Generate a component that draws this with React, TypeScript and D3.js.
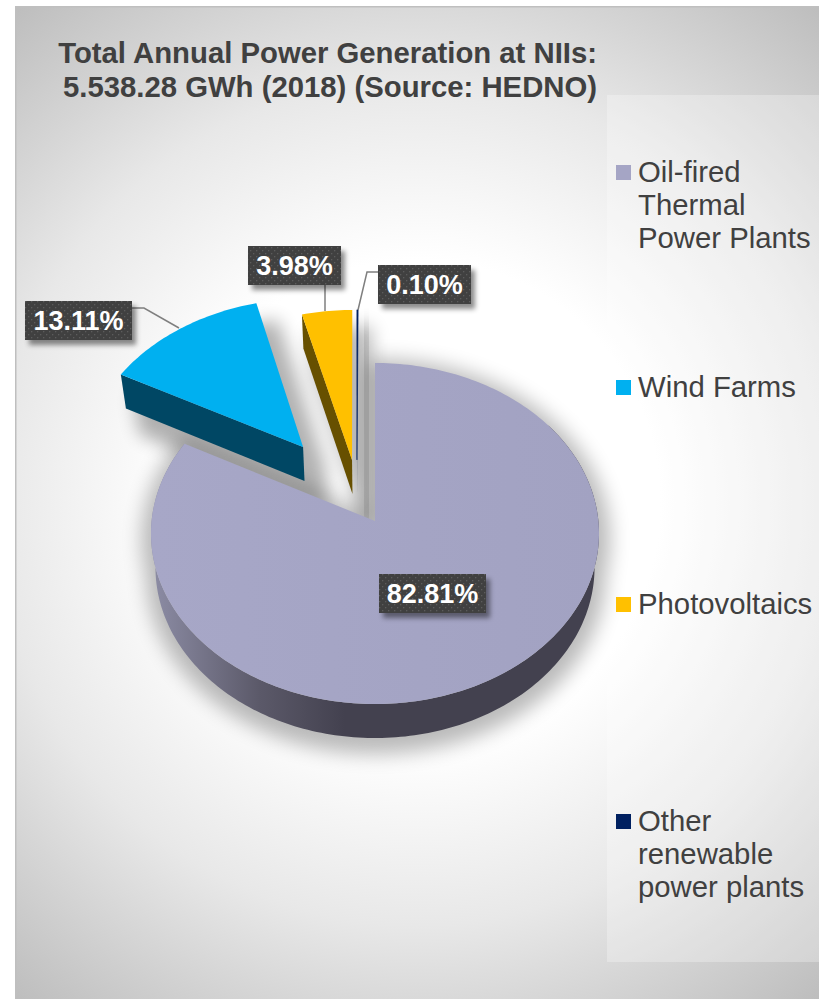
import React from "react";
import * as d3 from "d3";

// Share of annual generation by source, percent.
const categories = ["Oil-fired Thermal Power Plants", "Wind Farms", "Photovoltaics", "Other renewable power plants"];
const shares = [82.81, 13.11, 3.98, 0.1];
const legendLines = [["Oil-fired", "Thermal", "Power Plants"], ["Wind Farms"], ["Photovoltaics"], ["Other", "renewable", "power plants"]];
const titleLines = ["Total Annual Power Generation at NIIs:", "5.538.28 GWh (2018) (Source: HEDNO)"];

const topColors = ["url(#mainTop)", "#00b0f0", "#ffc000", "#002060"];
const sideColors = ["url(#mainSide)", "#004764", "#675000", "#7f8794"];
const legendColors = ["#a5a5c5", "#00b0f0", "#ffc000", "#002060"];

// Offset of each exploded slice in the plane of the pie, in radius units.
const explode: [number, number][] = [[0, 0], [-0.3326, 0.4505], [-0.1056, 0.3694], [-0.083, 0.37]];

// Label boxes and leader polylines for each slice.
const labelBoxes = [
  { x: 379, y: 574, w: 107 },
  { x: 25, y: 301, w: 107 },
  { x: 248, y: 246, w: 93 },
  { x: 378, y: 265, w: 93 },
];
const leaders: ([number, number][] | null)[] = [
  null,
  [[132, 308], [144, 308], [179, 328]],
  [[325, 285], [325, 311]],
  [[378, 272], [367, 272], [358, 310]],
];

const W = 819;
const H = 999;
const X0 = 375;
const Y0 = 521;
const RX = 223.4;
const RY = 169.6;
const PERSPECTIVE = 0.0733;
const THICK = 34;
const BASE_SCALE = 0.98;
const FONT = "'Liberation Sans', Arial, sans-serif";

type Pt = [number, number];

// Projects a point of the pie's disc (u right, v away from the viewer) to the screen.
function project(u: number, v: number): Pt {
  const w = 1 + PERSPECTIVE * v;
  return [X0 + (RX * u) / w, Y0 - (RY * v) / w];
}
const lower = ([x, y]: Pt): Pt => [X0 + (x - X0) * BASE_SCALE, y + THICK];

function arcPoints(a0: number, a1: number, off: [number, number]): Pt[] {
  const n = Math.max(2, Math.ceil((a1 - a0) / 0.02));
  return d3.range(n + 1).map((i) => {
    const t = a0 + ((a1 - a0) * i) / n;
    return project(Math.sin(t) + off[0], Math.cos(t) + off[1]);
  });
}
const poly = d3.line<Pt>().x((d) => d[0]).y((d) => d[1]);
const closed = (pts: Pt[]) => (poly(pts) as string) + "Z";

const slices = d3.pie<number>().sort(null).value((d) => d)(shares);

const geometry = slices.map((s, i) => {
  const off = explode[i];
  const arc = arcPoints(s.startAngle, s.endAngle, off);
  const apex = project(off[0], off[1]);
  const top = closed([apex, ...arc]);
  let side: string;
  if (i === 0) {
    // Front wall of the large slice: everything past the side silhouettes is hidden by the top.
    const front = arcPoints(Math.PI * 0.3, s.endAngle, off);
    side = closed([...front, ...front.map(lower).reverse()]);
  } else {
    const outer = arc[0];
    side = closed([outer, apex, lower(apex), lower(outer)]);
  }
  return { top, side, silhouette: top + side };
});

export default function App() {
  return (
    <svg
      width={W}
      height={H}
      viewBox={`0 0 ${W} ${H}`}
      style={{ position: "absolute", left: 0, top: 0, display: "block" }}
      fontFamily={FONT}
    >
      <defs>
        <radialGradient id="panelBg" gradientUnits="userSpaceOnUse" cx={417} cy={503} r={640}>
          <stop offset="0" stopColor="#ffffff" />
          <stop offset="0.38" stopColor="#ffffff" />
          <stop offset="0.66" stopColor="#e8e8e8" />
          <stop offset="0.8" stopColor="#d6d6d6" />
          <stop offset="1" stopColor="#bdbdbd" />
        </radialGradient>
        <linearGradient id="mainSide" gradientUnits="userSpaceOnUse" x1={155} x2={345} y1={0} y2={0}>
          <stop offset="0" stopColor="#8b8ba3" />
          <stop offset="0.55" stopColor="#5b5969" />
          <stop offset="1" stopColor="#43414f" />
        </linearGradient>
        <linearGradient id="mainTop" gradientUnits="userSpaceOnUse" x1={152} x2={600} y1={0} y2={0}>
          <stop offset="0" stopColor="#a7a7c7" />
          <stop offset="1" stopColor="#a2a2c2" />
        </linearGradient>
        <filter id="softWide" x="-20%" y="-20%" width="140%" height="140%">
          <feGaussianBlur stdDeviation="10" />
        </filter>
        <filter id="softNarrow" x="-100%" y="-50%" width="300%" height="200%">
          <feGaussianBlur stdDeviation="9" />
        </filter>
        <filter id="boxShadow" x="-20%" y="-30%" width="140%" height="170%">
          <feDropShadow dx="4" dy="5" stdDeviation="2.5" floodColor="#000" floodOpacity="0.45" />
        </filter>
        <pattern id="dots" width="6" height="6" patternUnits="userSpaceOnUse">
          <rect width="6" height="6" fill="#404040" />
          <rect x="1" y="1" width="1.3" height="1.3" fill="#5c5c5c" />
          <rect x="4" y="4" width="1.3" height="1.3" fill="#5c5c5c" />
        </pattern>
      </defs>

      {/* Panel and its frame */}
      <rect x={15} y={6} width={W - 15} height={H - 6} fill="#bfbfbf" />
      <rect x={16.5} y={7.5} width={W - 16.5} height={H - 7.5} fill="url(#panelBg)" />

      {/* Legend backing */}
      <rect x={607} y={95} width={212} height={867} fill="#ffffff" fillOpacity={0.28} />

      {/* Title */}
      <g fill="#404040" fontWeight="bold" fontSize={29.3} textAnchor="end">
        {titleLines.map((t, i) => (
          <text key={t} x={597} y={63 + i * 34}>{t}</text>
        ))}
      </g>

      {/* Cast shadows */}
      <g>
        <g opacity={0.27} filter="url(#softWide)">
          <path d={geometry[0].silhouette} transform="translate(1 6)" fill="#000" stroke="#000" strokeWidth={20} strokeLinejoin="round" />
        </g>
        <g opacity={0.3} filter="url(#softNarrow)">
          <path d={geometry[1].silhouette} transform="translate(18 22)" fill="#000" stroke="#000" strokeWidth={10} strokeLinejoin="round" />
        </g>
        <g opacity={0.26} filter="url(#softNarrow)">
          <path d={geometry[2].silhouette} transform="translate(14 22)" fill="#000" stroke="#000" strokeWidth={12} strokeLinejoin="round" />
        </g>
        <g opacity={0.12} filter="url(#softNarrow)">
          <path d={geometry[3].silhouette} transform="translate(9 22)" fill="#000" stroke="#000" strokeWidth={20} strokeLinejoin="round" />
        </g>
      </g>

      {/* Slices */}
      {geometry.map((g, i) => (
        <g key={categories[i]}>
          <path d={g.side} fill={sideColors[i]} />
          <path d={g.top} fill={topColors[i]} stroke={i === 3 ? topColors[i] : "none"} strokeWidth={i === 3 ? 0.6 : 0} />
        </g>
      ))}

      {/* Leader lines */}
      {leaders.map((pts, i) =>
        pts ? <path key={i} d={poly(pts) as string} fill="none" stroke="#7f7f7f" strokeWidth={1.5} /> : null,
      )}

      {/* Value labels */}
      {labelBoxes.map((b, i) => (
        <g key={i}>
          <rect x={b.x} y={b.y} width={b.w} height={39} fill="url(#dots)" filter="url(#boxShadow)" />
          <text x={b.x + b.w / 2} y={b.y + 29} textAnchor="middle" fill="#ffffff" fontWeight="bold" fontSize={27}>
            {shares[i].toFixed(2)}%
          </text>
        </g>
      ))}

      {/* Legend */}
      {legendLines.map((lines, i) => {
        const first = [182, 397, 614, 831][i];
        return (
          <g key={lines[0]}>
            <rect x={616} y={first - 17} width={15} height={15} fill={legendColors[i]} />
            {lines.map((l, j) => (
              <text key={l} x={638} y={first + j * 33} fill="#404040" fontSize={29.3}>{l}</text>
            ))}
          </g>
        );
      })}
    </svg>
  );
}
